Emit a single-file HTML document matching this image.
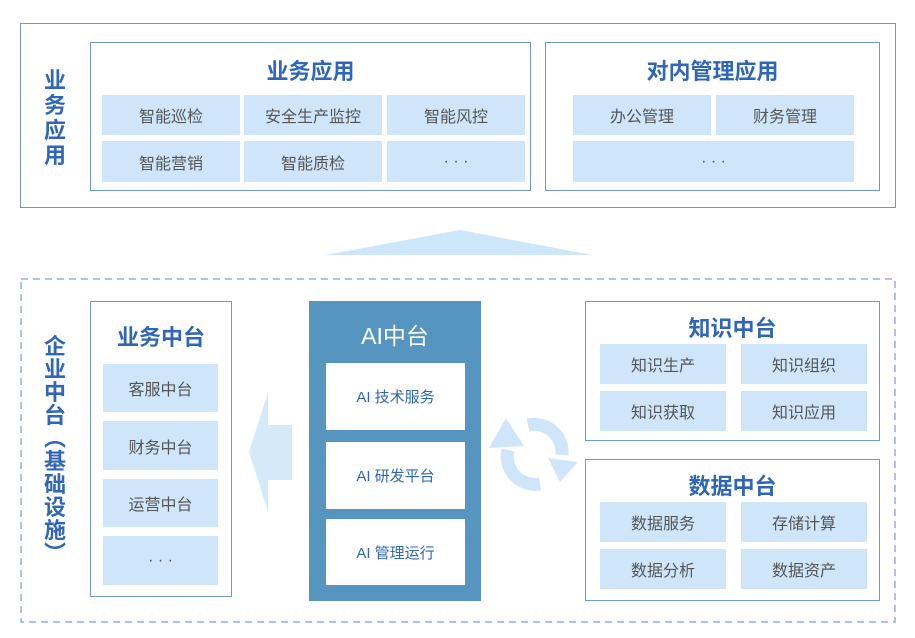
<!DOCTYPE html>
<html><head><meta charset="utf-8"><style>
body{margin:0;width:915px;height:638px;background:#fff;position:relative;overflow:hidden;font-family:"Liberation Sans","Noto Sans CJK SC",sans-serif}
div{position:absolute;box-sizing:border-box}
.b{border:1.5px solid #7197d2}
.c{background:#cfe6fa;color:#555;font-size:16px;display:flex;align-items:center;justify-content:center}
.t{color:#2f66b8;font-weight:bold;font-size:22px;text-align:center}
.w{background:#fff;color:#2f66b8;font-size:15px;display:flex;align-items:center;justify-content:center}
.v{color:#2f66b8;font-weight:bold;font-size:22px;width:30px;text-align:center;line-height:25px}
</style></head><body>
<div class="b" style="left:20px;top:23px;width:876px;height:185px"></div>
<div class="v" style="left:40px;top:68px">业<br>务<br>应<br>用</div>
<div class="b" style="left:90px;top:42px;width:441px;height:149px"></div>
<div class="t" style="left:90px;top:54px;width:441px">业务应用</div>
<div class="c" style="left:102px;top:95px;width:138px;height:40px">智能巡检</div>
<div class="c" style="left:244px;top:95px;width:138px;height:40px">安全生产监控</div>
<div class="c" style="left:387px;top:95px;width:138px;height:40px">智能风控</div>
<div class="c" style="left:102px;top:141px;width:138px;height:41px">智能营销</div>
<div class="c" style="left:244px;top:141px;width:138px;height:41px">智能质检</div>
<div class="c" style="left:387px;top:141px;width:138px;height:41px">· · ·</div>
<div class="b" style="left:545px;top:42px;width:335px;height:149px"></div>
<div class="t" style="left:545px;top:54px;width:335px">对内管理应用</div>
<div class="c" style="left:573px;top:95px;width:138px;height:40px">办公管理</div>
<div class="c" style="left:716px;top:95px;width:138px;height:40px">财务管理</div>
<div class="c" style="left:573px;top:141px;width:281px;height:41px">· · ·</div>
<svg style="position:absolute;left:0;top:0" width="915" height="638">
<polygon points="325,255 460,230 592,255" fill="#cde6fa"/>
<rect x="21" y="279" width="874" height="343" fill="none" stroke="#8fb0e0" stroke-width="1.5" stroke-dasharray="7,5"/>
<polygon points="249,452 268,392 268,425 292,425 292,480 268,480 268,512" fill="#d4eafb"/>
<g fill="none" stroke="#cfe6fa" stroke-width="13">
<path d="M508,450 A28,28 0 0,0 540,484"/>
<path d="M528,425 A28,28 0 0,1 562,455"/>
</g>
<g fill="#cfe6fa">
<polygon points="489,448 506,418 524,446"/>
<polygon points="548,458 578,462 560,482"/>
</g>
</svg>
<div class="v" style="left:40px;top:335px;line-height:23px">企<br>业<br>中<br>台<br>︵<br>基<br>础<br>设<br>施<br>︶</div>
<div class="b" style="left:90px;top:301px;width:142px;height:296px"></div>
<div class="t" style="left:90px;top:320px;width:142px">业务中台</div>
<div class="c" style="left:103px;top:364px;width:115px;height:48px">客服中台</div>
<div class="c" style="left:103px;top:421px;width:115px;height:49px">财务中台</div>
<div class="c" style="left:103px;top:479px;width:115px;height:48px">运营中台</div>
<div class="c" style="left:103px;top:536px;width:115px;height:49px">· · ·</div>
<div style="left:309px;top:301px;width:172px;height:300px;background:#5595c0"></div>
<div style="left:309px;top:317px;width:172px;color:#fff;font-size:23px;text-align:center">AI中台</div>
<div class="w" style="left:326px;top:363px;width:139px;height:67px">AI 技术服务</div>
<div class="w" style="left:326px;top:442px;width:139px;height:67px">AI 研发平台</div>
<div class="w" style="left:326px;top:519px;width:139px;height:66px">AI 管理运行</div>
<div class="b" style="left:585px;top:301px;width:295px;height:140px"></div>
<div class="t" style="left:585px;top:311px;width:295px">知识中台</div>
<div class="c" style="left:600px;top:344px;width:126px;height:40px">知识生产</div>
<div class="c" style="left:741px;top:344px;width:126px;height:40px">知识组织</div>
<div class="c" style="left:600px;top:391px;width:126px;height:40px">知识获取</div>
<div class="c" style="left:741px;top:391px;width:126px;height:40px">知识应用</div>
<div class="b" style="left:585px;top:459px;width:295px;height:142px"></div>
<div class="t" style="left:585px;top:469px;width:295px">数据中台</div>
<div class="c" style="left:600px;top:502px;width:126px;height:40px">数据服务</div>
<div class="c" style="left:741px;top:502px;width:126px;height:40px">存储计算</div>
<div class="c" style="left:600px;top:549px;width:126px;height:40px">数据分析</div>
<div class="c" style="left:741px;top:549px;width:126px;height:40px">数据资产</div>
</body></html>
